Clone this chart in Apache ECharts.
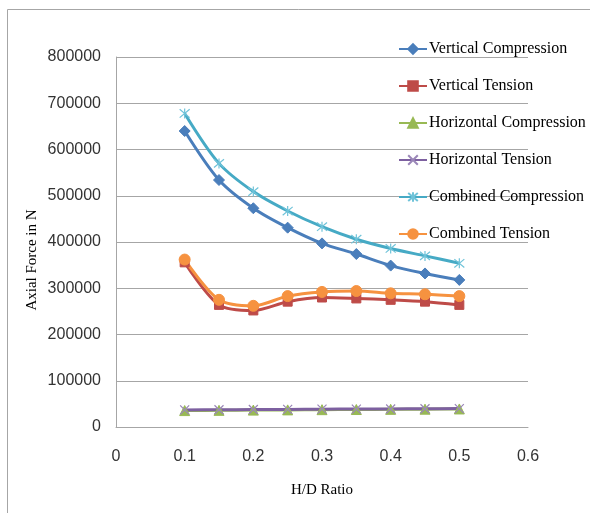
<!DOCTYPE html>
<html>
<head>
<meta charset="utf-8">
<script src="https://cdn.jsdelivr.net/npm/echarts@6/dist/echarts.min.js"></script>
<style>
  html, body { margin: 0; padding: 0; background: #ffffff; }
  #chart { width: 590px; height: 513px; }
</style>
</head>
<body>
<div id="chart"></div>
<script>
// H/D ratio samples
const hdRatio = [0.1, 0.15, 0.2, 0.25, 0.3, 0.35, 0.4, 0.45, 0.5];

// Axial force (N) per load case
const verticalCompression   = [640000, 534000, 473000, 431000, 397000, 374000, 349000, 332000, 318000];
const verticalTension       = [356000, 264000, 252000, 271000, 280000, 278000, 275000, 271000, 264000];
const horizontalCompression = [35500, 36000, 36500, 37000, 37500, 37800, 38200, 38500, 39000];
const horizontalTension     = [37000, 37200, 37800, 38000, 38500, 38800, 39000, 39500, 39800];
const combinedCompression   = [678000, 570000, 509000, 467000, 433000, 406000, 386000, 370000, 354000];
const combinedTension       = [362000, 275000, 262000, 283000, 292000, 294000, 289000, 287000, 283000];

const seriesNames = [
  'Vertical Compression', 'Vertical Tension', 'Horizontal Compression',
  'Horizontal Tension', 'Combined Compression', 'Combined Tension'
];

const xTicks = { min: 0, max: 0.6, step: 0.1 };
const yTicks = { min: 0, max: 800000, step: 100000 };

const pairs = vals => hdRatio.map((x, i) => [x, vals[i]]);

const serif = '"Liberation Serif", "Times New Roman", serif';
const sans = '"Liberation Sans", Arial, sans-serif';
const gridGray = '#a6a6a6';

function makeSeries(name, vals, color, symbol, size, extra) {
  return Object.assign({
    name: name,
    type: 'line',
    data: pairs(vals),
    smooth: 0.3,
    symbol: symbol,
    symbolSize: size,
    showAllSymbol: true,
    lineStyle: { color: color, width: 3 },
    itemStyle: { color: color, borderColor: color, borderWidth: 1 },
    emphasis: { disabled: true },
    z: 3
  }, extra || {});
}

const xMark = 'path://M0,0L10,10M10,0L0,10';
const starMark = 'path://M0,0L10,10M10,0L0,10M5,-1L5,11';

const chart = echarts.init(document.getElementById('chart'), null, { renderer: 'canvas' });

chart.setOption({
  animation: false,
  backgroundColor: '#ffffff',
  grid: { left: 116, top: 57, right: 62, bottom: 86, containLabel: false },
  xAxis: {
    type: 'value',
    min: xTicks.min,
    max: xTicks.max,
    interval: xTicks.step,
    name: 'H/D Ratio',
    nameLocation: 'middle',
    nameGap: 56,
    nameTextStyle: { fontFamily: serif, fontSize: 15, color: '#000000' },
    axisLine: { show: true, lineStyle: { color: gridGray, width: 1 } },
    axisTick: { show: false },
    splitLine: { show: false },
    axisLabel: {
      margin: 22,
      fontFamily: sans,
      fontSize: 16,
      color: '#333333',
      formatter: v => String(Math.round(v * 10) / 10)
    }
  },
  yAxis: {
    type: 'value',
    min: yTicks.min,
    max: yTicks.max,
    interval: yTicks.step,
    axisLine: { show: true, lineStyle: { color: gridGray, width: 1 } },
    axisTick: { show: false },
    splitLine: { show: true, lineStyle: { color: gridGray, width: 1 } },
    axisLabel: {
      margin: 15,
      fontFamily: sans,
      fontSize: 16,
      color: '#333333',
      formatter: v => String(v)
    }
  },
  legend: {
    orient: 'vertical',
    left: 393,
    top: 36,
    itemWidth: 28,
    itemHeight: 12,
    itemGap: 21,
    data: seriesNames,
    textStyle: { fontFamily: serif, fontSize: 16, color: '#000000', padding: [0, 0, 0, -3] },
    selectedMode: false
  },
  graphic: [
    { type: 'line', shape: { x1: 7.5, y1: 9.5, x2: 7.5, y2: 513 }, style: { stroke: gridGray, lineWidth: 1 }, silent: true },
    { type: 'line', shape: { x1: 7.5, y1: 9.5, x2: 590, y2: 9.5 }, style: { stroke: gridGray, lineWidth: 1 }, silent: true },
    {
      type: 'text',
      x: 32,
      y: 260,
      rotation: Math.PI / 2,
      style: {
        text: 'Axial Force in N',
        fontFamily: serif,
        fontSize: 15,
        fill: '#000000',
        align: 'center',
        verticalAlign: 'middle'
      },
      silent: true
    }
  ],
  series: [
    makeSeries(seriesNames[0], verticalCompression, '#4a7ebb', 'diamond', 11),
    makeSeries(seriesNames[1], verticalTension, '#be4b48', 'rect', 9),
    makeSeries(seriesNames[2], horizontalCompression, '#98b954', 'triangle', 10),
    makeSeries(seriesNames[3], horizontalTension, '#7d60a0', xMark, 9,
      { itemStyle: { color: '#9a86b8', borderColor: '#9a86b8', borderWidth: 1.2 } }),
    makeSeries(seriesNames[4], combinedCompression, '#46aac5', starMark, 10,
      { itemStyle: { color: '#6fc3d9', borderColor: '#6fc3d9', borderWidth: 1.2 } }),
    makeSeries(seriesNames[5], combinedTension, '#f69240', 'circle', 11)
  ]
});
</script>
</body>
</html>
